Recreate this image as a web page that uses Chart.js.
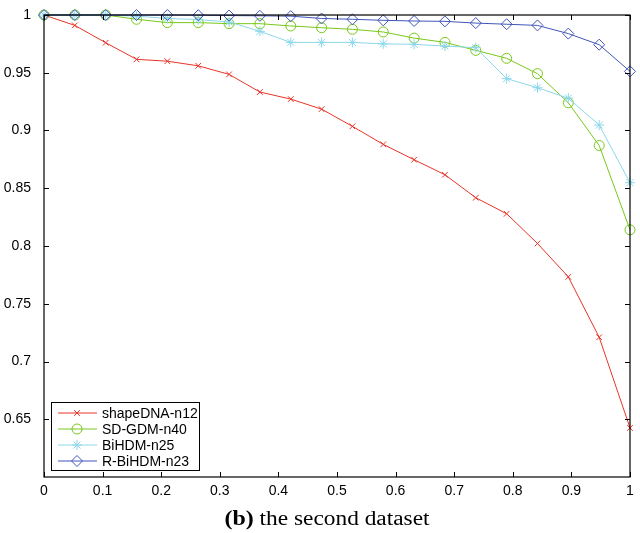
<!DOCTYPE html>
<html>
<head>
<meta charset="utf-8">
<script src="https://cdn.jsdelivr.net/npm/chart.js@4/dist/chart.umd.min.js"></script>
<style>
  html, body { margin: 0; padding: 0; background: #fff; }
  canvas { display: block; }
</style>
</head>
<body>
<canvas id="chart" width="640" height="533"></canvas>
<script>
// umbral (eje x), 20 puntos
const umbrales = [0, 0.0526, 0.1053, 0.1579, 0.2105, 0.2632, 0.3158, 0.3684, 0.4211, 0.4737,
                  0.5263, 0.5789, 0.6316, 0.6842, 0.7368, 0.7895, 0.8421, 0.8947, 0.9474, 1];

const shapeDNA = [1.0, 0.991, 0.976, 0.9616, 0.960, 0.956, 0.9486, 0.9333, 0.9272, 0.9185,
                  0.9036, 0.888, 0.8747, 0.8617, 0.8418, 0.8279, 0.8022, 0.7733, 0.721, 0.6425];
const sdGDM    = [1.0, 1.0, 1.0, 0.9963, 0.9934, 0.9934, 0.9925, 0.9925, 0.9905, 0.989,
                  0.9876, 0.9853, 0.980, 0.9763, 0.9694, 0.9625, 0.9492, 0.924, 0.887, 0.814];
const biHDM    = [1.0, 1.0, 1.0, 0.999, 0.997, 0.996, 0.994, 0.9859, 0.9763, 0.9763,
                  0.9763, 0.975, 0.9746, 0.9731, 0.9717, 0.9449, 0.937, 0.928, 0.9047, 0.8548];
const rBiHDM   = [1.0, 1.0, 1.0, 1.0, 1.0, 0.9998, 0.9995, 0.9993, 0.999, 0.997,
                  0.9963, 0.9954, 0.9948, 0.9945, 0.993, 0.992, 0.991, 0.9839, 0.9743, 0.9512];

const nombres = ['shapeDNA-n12', 'SD-GDM-n40', 'BiHDM-n25', 'R-BiHDM-n23'];
const xTicks = [0, 0.1, 0.2, 0.3, 0.4, 0.5, 0.6, 0.7, 0.8, 0.9, 1];
const yTicks = [0.65, 0.7, 0.75, 0.8, 0.85, 0.9, 0.95, 1];

const SANS = '"Liberation Sans", Arial, sans-serif';
const SERIF = '"Liberation Serif", "Times New Roman", serif';

function serie(valores) {
    return valores.map((v, i) => ({ x: umbrales[i], y: v }));
}

function ds(label, valores, color, estilo, radio, orden) {
    return {
        label: label,
        data: serie(valores),
        borderColor: color,
        backgroundColor: 'rgba(0,0,0,0)',
        pointBorderColor: color,
        pointBackgroundColor: 'rgba(0,0,0,0)',
        pointStyle: estilo,
        pointRadius: radio,
        pointBorderWidth: 1,
        borderWidth: 1,
        tension: 0,
        clip: false,
        order: orden
    };
}

// ejes en caja con marcas hacia adentro + leyenda + pie de figura
const cajaPlugin = {
    id: 'caja',
    afterDraw(chart) {
        const ctx = chart.ctx;
        const a = chart.chartArea;
        const xs = chart.scales.x, ys = chart.scales.y;
        ctx.save();
        ctx.strokeStyle = '#000';
        ctx.lineWidth = 1.2;
        ctx.strokeRect(a.left, a.top, a.right - a.left, a.bottom - a.top);
        ctx.lineWidth = 1;
        ctx.beginPath();
        xTicks.forEach(t => {
            const px = Math.round(xs.getPixelForValue(t)) + 0.5;
            ctx.moveTo(px, a.bottom); ctx.lineTo(px, a.bottom - 5);
            ctx.moveTo(px, a.top); ctx.lineTo(px, a.top + 5);
        });
        yTicks.forEach(t => {
            const py = Math.round(ys.getPixelForValue(t)) + 0.5;
            ctx.moveTo(a.left, py); ctx.lineTo(a.left + 5, py);
            ctx.moveTo(a.right, py); ctx.lineTo(a.right - 5, py);
        });
        ctx.stroke();

        // leyenda
        const lx = 51, ly = 402, lw = 148, lh = 68;
        ctx.fillStyle = '#fff';
        ctx.fillRect(lx, ly, lw, lh);
        ctx.strokeStyle = '#000';
        ctx.lineWidth = 1;
        ctx.strokeRect(lx + 0.5, ly + 0.5, lw, lh);
        ctx.font = '14px ' + SANS;
        ctx.textBaseline = 'middle';
        chart.data.datasets.forEach((d, i) => {
            const yy = ly + 11 + i * 16;
            ctx.strokeStyle = d.borderColor;
            ctx.lineWidth = 1;
            ctx.beginPath();
            ctx.moveTo(lx + 7, yy); ctx.lineTo(lx + 46, yy);
            ctx.stroke();
            ctx.fillStyle = 'rgba(0,0,0,0)';
            Chart.helpers.drawPoint(ctx, {
                pointStyle: d.pointStyle, radius: d.pointRadius, rotation: 0,
                borderWidth: 1
            }, lx + 26, yy);
            ctx.fillStyle = '#000';
            ctx.textAlign = 'left';
            ctx.fillText(d.label, lx + 51, yy + 1);
        });

        // pie de figura (algo estirado en horizontal, como el original)
        ctx.fillStyle = '#000';
        ctx.textBaseline = 'alphabetic';
        ctx.textAlign = 'left';
        const fb = 'bold 21px ' + SERIF;
        const fn = '20.5px ' + SERIF;
        const sx = 1.14;
        ctx.font = fb;
        const w1 = ctx.measureText('(b)').width;
        ctx.font = fn;
        const txt = ' the second dataset';
        const w2 = ctx.measureText(txt).width;
        const x0 = 327 - sx * (w1 + w2) / 2;
        ctx.translate(x0, 525);
        ctx.scale(sx, 1);
        ctx.font = fb;
        ctx.fillText('(b)', 0, 0);
        ctx.font = fn;
        ctx.fillText(txt, w1, 0);
        ctx.restore();
    }
};

new Chart(document.getElementById('chart'), {
    type: 'line',
    data: {
        datasets: [
            ds(nombres[0], shapeDNA, 'rgb(232,52,40)', 'crossRot', 4, 4),
            ds(nombres[1], sdGDM, 'rgb(120,200,25)', 'circle', 5, 3),
            ds(nombres[2], biHDM, 'rgb(140,215,235)', 'star', 5, 2),
            ds(nombres[3], rBiHDM, 'rgb(65,85,185)', 'rectRot', 5.5, 1)
        ]
    },
    options: {
        responsive: false,
        animation: false,
        layout: { padding: { left: 0, right: 10, top: 15, bottom: 0 } },
        plugins: {
            legend: { display: false },
            tooltip: { enabled: false }
        },
        scales: {
            x: {
                type: 'linear',
                min: 0, max: 1,
                grid: { display: false },
                border: { display: false },
                afterBuildTicks: s => { s.ticks = xTicks.map(v => ({ value: v })); },
                afterFit: s => { s.height = 56; },
                ticks: {
                    color: '#000',
                    font: { family: SANS, size: 14 },
                    padding: -2,
                    maxRotation: 0,
                    callback: v => String(Number(v.toFixed(2)))
                }
            },
            y: {
                type: 'linear',
                min: 0.6, max: 1,
                grid: { display: false },
                border: { display: false },
                afterBuildTicks: s => { s.ticks = yTicks.map(v => ({ value: v })); },
                afterFit: s => { s.width = 44; },
                ticks: {
                    color: '#000',
                    font: { family: SANS, size: 14 },
                    padding: 5,
                    callback: v => String(Number(v.toFixed(2)))
                }
            }
        }
    },
    plugins: [cajaPlugin]
});
</script>
</body>
</html>
